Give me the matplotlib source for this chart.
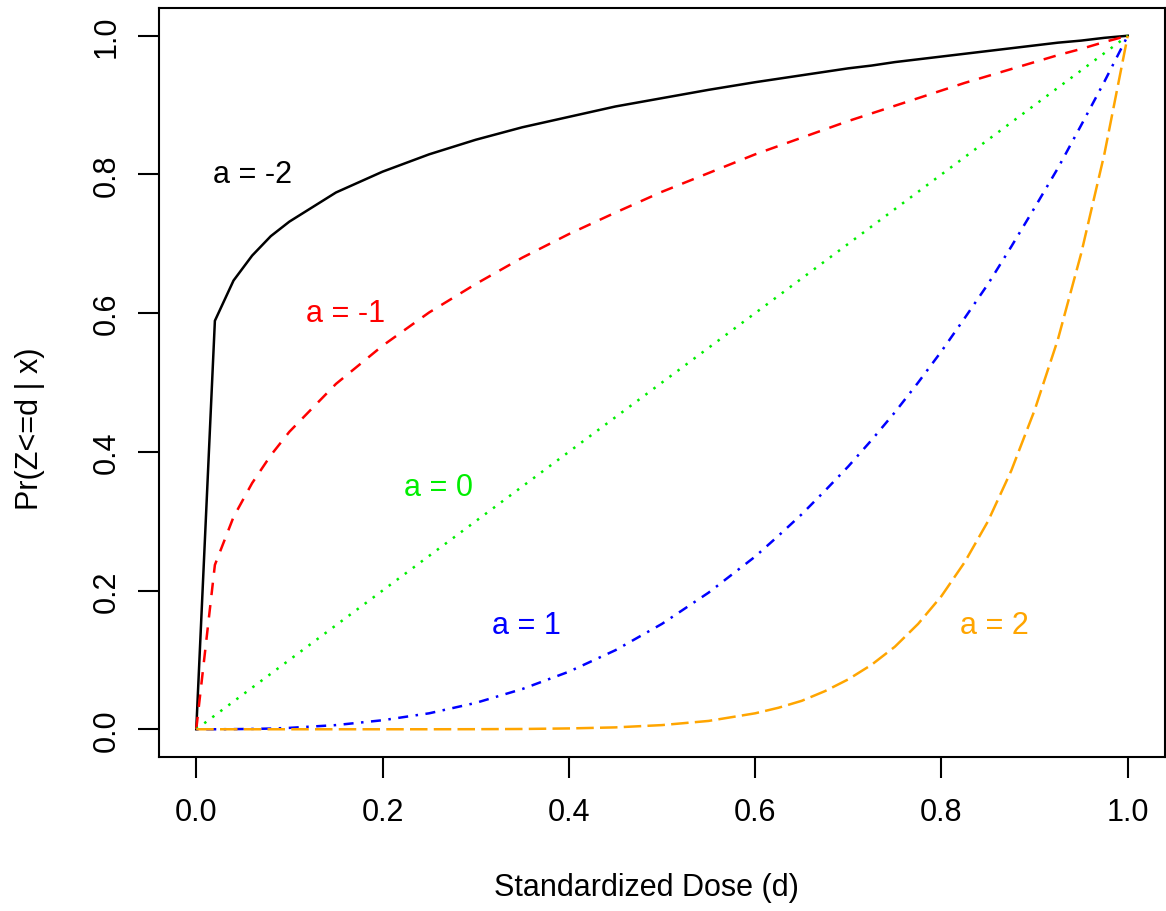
import matplotlib
matplotlib.use("Agg")
import matplotlib.pyplot as plt

plt.rcParams['font.family'] = ['Liberation Sans', 'DejaVu Sans']

# standardized dose grid
d = [0, 0.02, 0.04, 0.06, 0.08, 0.10, 0.15, 0.20, 0.25, 0.30, 0.35, 0.40,
     0.45, 0.50, 0.55, 0.60, 0.625, 0.65, 0.675, 0.70, 0.725, 0.75, 0.775,
     0.80, 0.825, 0.85, 0.875, 0.90, 0.925, 0.95, 0.975, 1.00]

# Pr(Z<=d | x)
p_m2 = [0, 0.589, 0.647, 0.683, 0.711, 0.732, 0.774, 0.804, 0.829, 0.850, 0.868, 0.883,
        0.898, 0.910, 0.922, 0.933, 0.938, 0.943, 0.948, 0.953, 0.957, 0.962, 0.966,
        0.970, 0.974, 0.978, 0.982, 0.986, 0.990, 0.993, 0.997, 1.0]
p_m1 = [0, 0.237, 0.306, 0.355, 0.395, 0.429, 0.498, 0.553, 0.601, 0.642, 0.680, 0.714,
        0.745, 0.775, 0.802, 0.829, 0.841, 0.853, 0.865, 0.877, 0.888, 0.899, 0.910,
        0.921, 0.932, 0.942, 0.952, 0.962, 0.972, 0.981, 0.991, 1.0]
p_0 = [0, 0.02, 0.04, 0.06, 0.08, 0.10, 0.15, 0.20, 0.25, 0.30, 0.35, 0.40,
       0.45, 0.50, 0.55, 0.60, 0.625, 0.65, 0.675, 0.70, 0.725, 0.75, 0.775,
       0.80, 0.825, 0.85, 0.875, 0.90, 0.925, 0.95, 0.975, 1.0]
p_1 = [0, 0.0, 0.0002, 0.0005, 0.001, 0.002, 0.006, 0.013, 0.023, 0.038, 0.058, 0.083,
       0.114, 0.152, 0.197, 0.249, 0.279, 0.310, 0.344, 0.379, 0.417, 0.457, 0.500,
       0.545, 0.593, 0.642, 0.696, 0.752, 0.809, 0.871, 0.934, 1.0]
p_2 = [0, 0, 0, 0, 0, 0, 0, 0, 0, 0.0001, 0.0004, 0.0012,
       0.0027, 0.006, 0.012, 0.023, 0.031, 0.041, 0.055, 0.072, 0.093, 0.119, 0.152,
       0.192, 0.241, 0.300, 0.373, 0.460, 0.562, 0.686, 0.830, 1.0]

labels = ['a = -2', 'a = -1', 'a = 0', 'a = 1', 'a = 2']
label_x = [0.06, 0.16, 0.26, 0.355, 0.857]
label_y = [0.80, 0.60, 0.35, 0.15, 0.15]
colors = ['black', 'red', '#00ee00', 'blue', 'orange']
styles = ['-', (0, (5, 4)), (0, (1, 3)), (0, (1, 3, 4, 3)), (0, (7, 2.5))]

fig = plt.figure(figsize=(11.66, 9.12), dpi=100)
ax = fig.add_axes([159/1166, (912-758)/912, (1165-159)/1166, (758-9)/912])

for ys, c, ls in zip([p_m2, p_m1, p_0, p_1, p_2], colors, styles):
    ax.plot(d, ys, color=c, linestyle=ls, linewidth=1.8)

for t, x, y, c in zip(labels, label_x, label_y, colors):
    ax.text(x, y, t, color=c, fontsize=22, ha='center', va='center')

ax.set_xlim(-0.04, 1.04)
ax.set_ylim(-0.04, 1.04)
ticks = [0, 0.2, 0.4, 0.6, 0.8, 1.0]
ax.set_xticks(ticks)
ax.set_yticks(ticks)
ax.set_xticklabels(['0.0', '0.2', '0.4', '0.6', '0.8', '1.0'])
ax.set_yticklabels(['0.0', '0.2', '0.4', '0.6', '0.8', '1.0'], rotation=90, va='center')
ax.tick_params(axis='both', length=15, width=1.5, labelsize=22)
ax.tick_params(axis='x', pad=14)
ax.tick_params(axis='y', pad=12)
for s in ax.spines.values():
    s.set_linewidth(1.5)

ax.set_xlabel('Standardized Dose (d)', fontsize=22)
ax.set_ylabel('Pr(Z<=d | x)', fontsize=22)
ax.xaxis.set_label_coords(0.485, -0.1736)
ax.xaxis.label.set_va('center')
ax.yaxis.set_label_coords(-0.128, 0.44)
ax.yaxis.label.set_va('center')

fig.savefig('out.png', dpi=100)
